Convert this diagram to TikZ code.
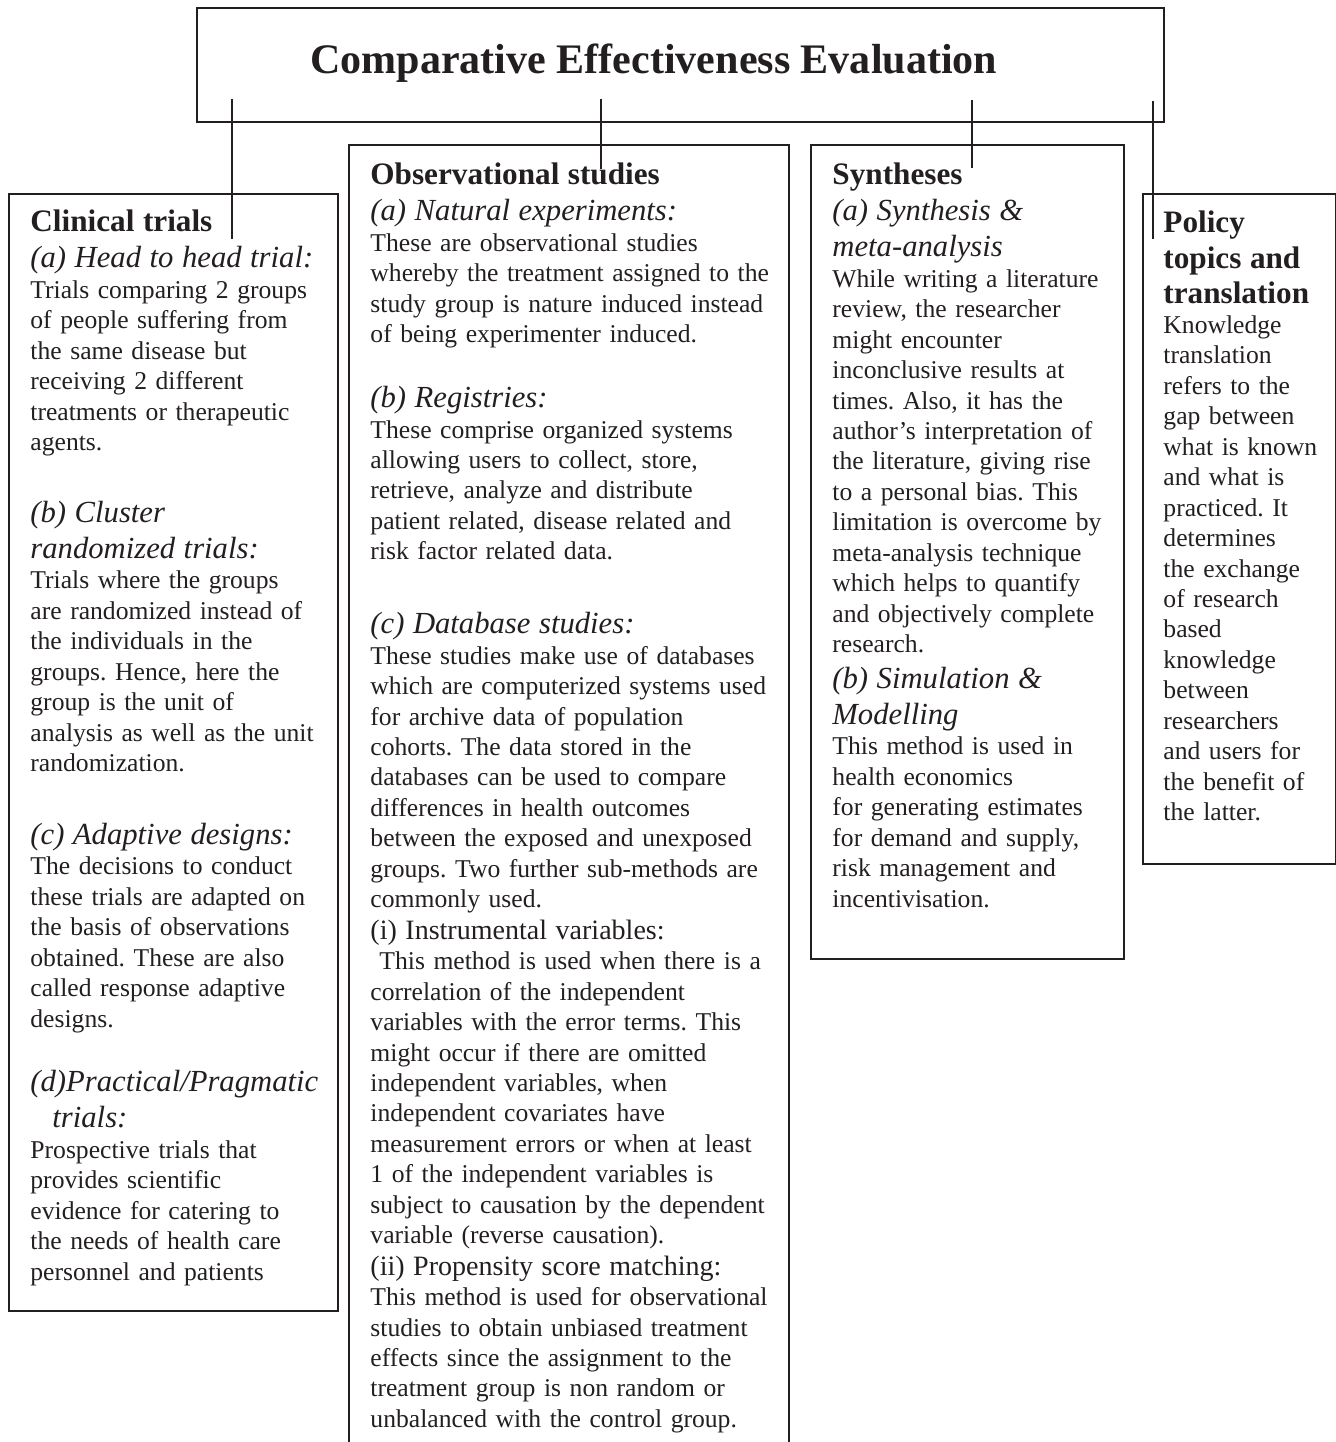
\documentclass[tikz,border=0pt]{standalone}
\usepackage{fontspec}
\setmainfont{Liberation Serif}
\usetikzlibrary{calc}

\definecolor{ink}{RGB}{35,31,32}
\newlength\px
\setlength\px{0.4566pt}
\setlength\parindent{0pt}
\frenchspacing
\newcommand\boxhead{\bfseries\fontsize{14.25}{16}\selectfont}
\newcommand\boxsub{\itshape\fontsize{14}{16.4}\selectfont}
\newcommand\boxbody{\fontsize{11.7}{13.9}\selectfont}
\newcommand\boxitem{\fontsize{12.8}{14.4}\selectfont}

\tikzset{
  panel/.style={draw=ink, line width=0.9pt, anchor=north west, inner sep=0pt},
  paneltext/.style={anchor=base west, inner sep=0pt, align=left, text width=#1, text=ink, font=\boxbody},
  link/.style={draw=ink, line width=0.7pt}
}

\begin{document}
\begin{tikzpicture}[x=\px, y=-\px]
        \useasboundingbox (0,0) rectangle (1336,1442);
        \clip (0,0) rectangle (1336,1442);

        % Boxes
        \node[panel, minimum width=967\px, minimum height=114\px] (title) at (196,7) {};
        \node[panel, minimum width=329\px, minimum height=1117\px] (clin) at (8,193) {};
        \node[panel, minimum width=440\px, minimum height=1316\px] (obs) at (348,144) {};
        \node[panel, minimum width=313\px, minimum height=814\px] (syn) at (810,144) {};
        \node[panel, minimum width=193\px, minimum height=670\px] (pol) at (1142,193) {};

        % Title
        \node[anchor=base west, inner sep=0pt, text=ink, font=\bfseries\fontsize{19.2}{23}\selectfont] (titletext) at (310,74) {Comparative Effectiveness Evaluation};

        % Clinical trials
        \node[paneltext=305\px] (clintext) at (30,232) {%
            {\boxhead Clinical trials\par}
            {\boxsub (a) Head to head trial:\par}
            Trials comparing 2 groups\\ of people suffering from\\ the same disease but\\ receiving 2 different\\ treatments or therapeutic\\ agents.\par
            \vspace{36\px}
            {\boxsub (b) Cluster\\ randomized trials:\par}
            Trials where the groups\\ are randomized instead of\\ the individuals in the\\ groups. Hence, here the\\ group is the unit of\\ analysis as well as the unit\\ randomization.\par
            \vspace{37\px}
            {\boxsub (c) Adaptive designs:\par}
            The decisions to conduct\\ these trials are adapted on\\ the basis of observations\\ obtained. These are also\\ called response adaptive\\ designs.\par
            \vspace{29\px}
            {\boxsub (d)Practical/Pragmatic\\ \hspace*{22\px}trials:\par}
            Prospective trials that\\ provides scientific\\ evidence for catering to\\ the needs of health care\\ personnel and patients\par};

        % Observational studies
        \node[paneltext=415\px] (obstext) at (370,185) {%
            {\boxhead Observational studies\par}
            {\boxsub (a) Natural experiments:\par}
            These are observational studies\\ whereby the treatment assigned to the\\ study group is nature induced instead\\ of being experimenter induced.\par
            \vspace{29\px}
            {\boxsub (b) Registries:\par}
            These comprise organized systems\\ allowing users to collect, store,\\ retrieve, analyze and distribute\\ patient related, disease related and\\ risk factor related data.\par
            \vspace{38\px}
            {\boxsub (c) Database studies:\par}
            These studies make use of databases\\ which are computerized systems used\\ for archive data of population\\ cohorts. The data stored in the\\ databases can be used to compare\\ differences in health outcomes\\ between the exposed and unexposed\\ groups. Two further sub-methods are\\ commonly used.\par
            {\boxitem (i) Instrumental variables:\par}
            \hspace*{9\px}This method is used when there is a\\ correlation of the independent\\ variables with the error terms. This\\ might occur if there are omitted\\ independent variables, when\\ independent covariates have\\ measurement errors or when at least\\ 1 of the independent variables is\\ subject to causation by the dependent\\ variable (reverse causation).\par
            {\boxitem (ii) Propensity score matching:\par}
            This method is used for observational\\ studies to obtain unbiased treatment\\ effects since the assignment to the\\ treatment group is non random or\\ unbalanced with the control group.\par};

        % Syntheses
        \node[paneltext=290\px] (syntext) at (832,185) {%
            {\boxhead Syntheses\par}
            {\boxsub (a) Synthesis \&\\ meta-analysis\par}
            While writing a literature\\ review, the researcher\\ might encounter\\ inconclusive results at\\ times. Also, it has the\\ author’s interpretation of\\ the literature, giving rise\\ to a personal bias. This\\ limitation is overcome by\\ meta-analysis technique\\ which helps to quantify\\ and objectively complete\\ research.\par
            {\boxsub (b) Simulation \&\\ Modelling\par}
            This method is used in\\ health economics\\ for generating estimates\\ for demand and supply,\\ risk management and\\ incentivisation.\par};

        % Policy topics and translation
        \node[paneltext=170\px] (poltext) at (1163,233) {%
            {\boxhead Policy\\ topics and\\ translation\par}
            Knowledge\\ translation\\ refers to the\\ gap between\\ what is known\\ and what is\\ practiced. It\\ determines\\ the exchange\\ of research\\ based\\ knowledge\\ between\\ researchers\\ and users for\\ the benefit of\\ the latter.\par};

        % Links from the title box
        \draw[link] ($(title.south west)+(36,-24)$) -- ($(clin.north west)+(224,46)$);
        \draw[link] ($(title.south west)+(405,-24)$) -- ($(obs.north west)+(253,25)$);
        \draw[link] ($(title.south west)+(776,-23)$) -- ($(syn.north west)+(162,24)$);
        \draw[link] ($(title.south west)+(957,-22)$) -- ($(pol.north west)+(11,46)$);
\end{tikzpicture}
\end{document}
